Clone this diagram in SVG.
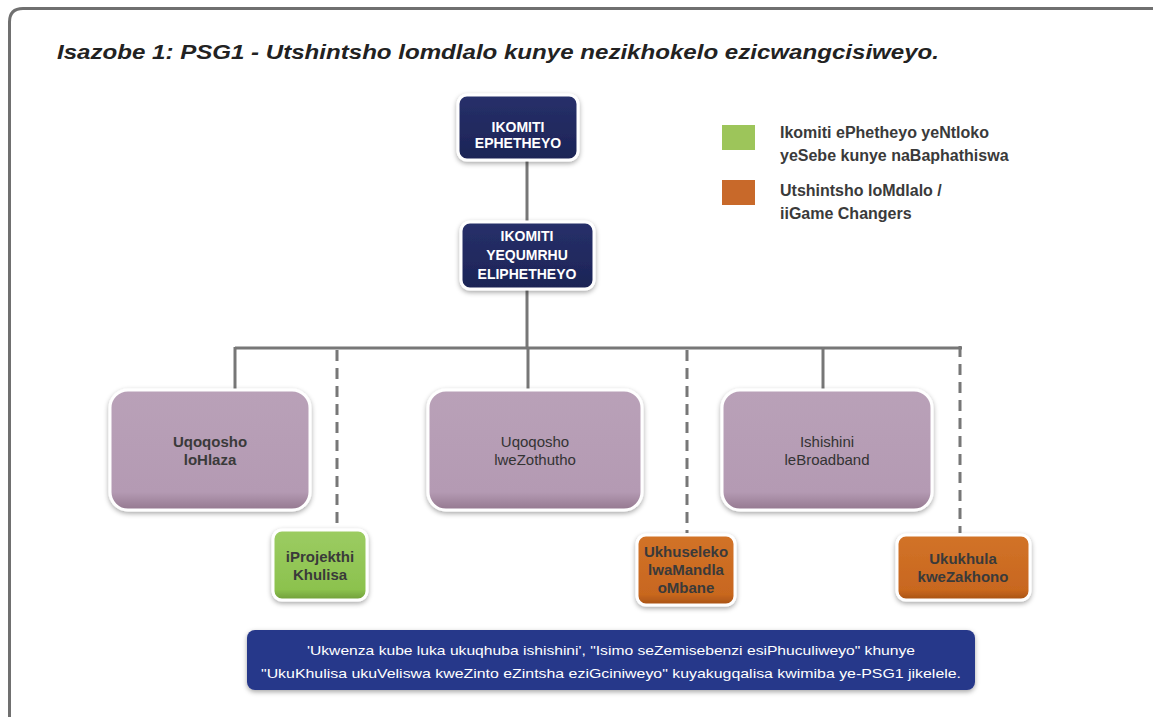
<svg xmlns="http://www.w3.org/2000/svg" width="1153" height="717" viewBox="0 0 1153 717">
<defs>
<filter id="sh" x="-20%" y="-20%" width="140%" height="150%">
<feDropShadow dx="0" dy="2" stdDeviation="2.5" flood-color="#000" flood-opacity="0.35"/>
</filter>
<linearGradient id="gp" x1="0" y1="0" x2="0" y2="1">
<stop offset="0" stop-color="#b9a1b8"/><stop offset="0.85" stop-color="#b49ab3"/><stop offset="1" stop-color="#94788f"/>
</linearGradient>
<linearGradient id="gg" x1="0" y1="0" x2="0" y2="1">
<stop offset="0" stop-color="#9ccc62"/><stop offset="0.85" stop-color="#8cc24e"/><stop offset="1" stop-color="#6f9d38"/>
</linearGradient>
<linearGradient id="go" x1="0" y1="0" x2="0" y2="1">
<stop offset="0" stop-color="#d27328"/><stop offset="0.85" stop-color="#c8671f"/><stop offset="1" stop-color="#a65214"/>
</linearGradient>
<linearGradient id="gn" x1="0" y1="0" x2="0" y2="1">
<stop offset="0" stop-color="#27306a"/><stop offset="1" stop-color="#1c2456"/>
</linearGradient>
</defs>
<style>
.t{font-family:"Liberation Sans",Arial,sans-serif;}
.nw{font-size:14px;font-weight:bold;fill:#fff;text-anchor:middle;}
.nd{font-size:15px;fill:#333;text-anchor:middle;}
.nb{font-size:15px;font-weight:bold;fill:#3a3a3a;text-anchor:middle;}
.lg{font-size:16px;font-weight:bold;fill:#3a3a3a;}
.box{stroke:#fff;stroke-width:3;filter:url(#sh);}
.sol{stroke:#777;stroke-width:3;fill:none;}
.dash{stroke:#777;stroke-width:3;fill:none;stroke-dasharray:11 7;}
</style>
<rect width="1153" height="717" fill="#fff"/>
<path d="M9.5 717 L9.5 22 Q9.5 8.5 23 8.5 L1153 8.5" fill="none" stroke="#707070" stroke-width="3"/>
<text class="t" x="57" y="59" font-size="20" font-style="italic" font-weight="bold" fill="#222" textLength="882" lengthAdjust="spacingAndGlyphs">Isazobe 1: PSG1 - Utshintsho lomdlalo kunye nezikhokelo ezicwangcisiweyo.</text>

<g id="connectors">
<line class="sol" x1="527" y1="160" x2="527" y2="222"/>
<line class="sol" x1="527" y1="289" x2="527" y2="348"/>
<line class="sol" x1="235" y1="348" x2="962" y2="348"/>
<line class="sol" x1="235" y1="347" x2="235" y2="390"/>
<line class="sol" x1="528" y1="347" x2="528" y2="390"/>
<line class="sol" x1="823" y1="347" x2="823" y2="390"/>
<line class="dash" x1="337" y1="350" x2="337" y2="530"/>
<line class="dash" x1="687" y1="350" x2="687" y2="533"/>
<line class="dash" x1="960" y1="346" x2="960" y2="533"/>
</g>

<g id="n-top">
<rect class="box" x="458" y="95" width="120" height="65" rx="9" fill="url(#gn)"/>
<text class="t nw" x="518" y="132">IKOMITI</text>
<text class="t nw" x="518" y="148">EPHETHEYO</text>
</g>
<g id="n-second">
<rect class="box" x="461" y="222" width="133" height="67" rx="9" fill="url(#gn)"/>
<text class="t nw" x="527" y="241">IKOMITI</text>
<text class="t nw" x="527" y="260">YEQUMRHU</text>
<text class="t nw" x="527" y="279">ELIPHETHEYO</text>
</g>

<g id="legend">
<rect x="722" y="125" width="33" height="25" fill="#9dc55a"/>
<text class="t lg" x="780" y="138">Ikomiti ePhetheyo yeNtloko</text>
<text class="t lg" x="780" y="161">yeSebe kunye naBaphathiswa</text>
<rect x="722" y="180" width="33" height="25" fill="#c8692a"/>
<text class="t lg" x="780" y="196">Utshintsho loMdlalo /</text>
<text class="t lg" x="780" y="219">iiGame Changers</text>
</g>

<g id="n-hlaza">
<rect class="box" x="110" y="390" width="200" height="120" rx="18" fill="url(#gp)"/>
<text class="t nb" x="210" y="447">Uqoqosho</text>
<text class="t nb" x="210" y="465">loHlaza</text>
</g>
<g id="n-zothutho">
<rect class="box" x="428" y="390" width="214" height="120" rx="18" fill="url(#gp)"/>
<text class="t nd" x="535" y="447">Uqoqosho</text>
<text class="t nd" x="535" y="465">lweZothutho</text>
</g>
<g id="n-broadband">
<rect class="box" x="722" y="390" width="210" height="120" rx="18" fill="url(#gp)"/>
<text class="t nd" x="827" y="447">Ishishini</text>
<text class="t nd" x="827" y="465">leBroadband</text>
</g>

<g id="n-khulisa">
<rect class="box" x="273" y="530" width="94" height="70" rx="9" fill="url(#gg)"/>
<text class="t nb" x="320" y="562">iProjekthi</text>
<text class="t nb" x="320" y="580">Khulisa</text>
</g>
<g id="n-mandla">
<rect class="box" x="637" y="535" width="98" height="70" rx="9" fill="url(#go)"/>
<text class="t nb" x="686" y="557">Ukhuseleko</text>
<text class="t nb" x="686" y="575">lwaMandla</text>
<text class="t nb" x="686" y="593">oMbane</text>
</g>
<g id="n-zakhono">
<rect class="box" x="897" y="535" width="133" height="65" rx="9" fill="url(#go)"/>
<text class="t nb" x="963" y="564">Ukukhula</text>
<text class="t nb" x="963" y="582">kweZakhono</text>
</g>

<g id="banner">
<rect x="247" y="630" width="728" height="60" rx="8" fill="#27388a" filter="url(#sh)"/>
<text class="t" x="611" y="655" font-size="13.5" fill="#fff" text-anchor="middle" textLength="608" lengthAdjust="spacingAndGlyphs">'Ukwenza kube luka ukuqhuba ishishini', "Isimo seZemisebenzi esiPhuculiweyo" khunye</text>
<text class="t" x="611" y="678" font-size="13.5" fill="#fff" text-anchor="middle" textLength="700" lengthAdjust="spacingAndGlyphs">"UkuKhulisa ukuVeliswa kweZinto eZintsha eziGciniweyo" kuyakugqalisa kwimiba ye-PSG1 jikelele.</text>
</g>
</svg>
